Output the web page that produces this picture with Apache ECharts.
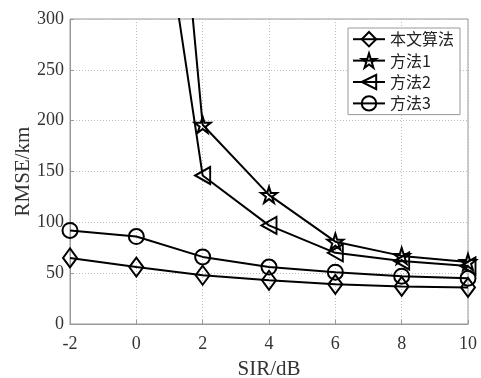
<!DOCTYPE html>
<html>
<head>
<meta charset="utf-8">
<script src="https://cdn.jsdelivr.net/npm/echarts@6/dist/echarts.min.js"></script>
<style>
  html, body { margin: 0; padding: 0; background: #fff; }
  #main { width: 481px; height: 378px; }
</style>
</head>
<body>
<div id="main"></div>
<script>
// SIR (dB) on x
var sirValues = [-2, 0, 2, 4, 6, 8, 10];
// RMSE (km) per method
var oursRmse = [65, 56, 48, 43, 39, 37, 36];
var method1Rmse = [null, 900, 196, 127, 81, 67, 61];
var method2Rmse = [null, 580, 146, 97, 70, 62, 57];
var method3Rmse = [92, 86, 66, 56, 51, 47, 45];
var seriesNames = ['本文算法', '方法1', '方法2', '方法3'];

var starPath = 'path://M0,-1L0.2245,-0.309L0.951,-0.309L0.363,0.118L0.588,0.809L0,0.382L-0.588,0.809L-0.363,0.118L-0.951,-0.309L-0.2245,-0.309Z';
var diamondPath = 'path://M0,-1L1,0L0,1L-1,0Z';
var triPath = 'path://M-1,0L1,-1L1,1Z';

function pairs(vals) {
    var out = [];
    sirValues.forEach(function (x, i) {
        if (vals[i] != null) {
            out.push([x, vals[i]]);
        }
    });
    return out;
}

function makeSeries(name, vals, symbol, size) {
    return {
        name: name,
        type: 'line',
        data: pairs(vals),
        symbol: symbol,
        symbolSize: size,
        showAllSymbol: true,
        clip: true,
        lineStyle: { color: '#000', width: 2 },
        itemStyle: { color: 'rgba(255,255,255,0)', borderColor: '#000', borderWidth: 2 },
        emphasis: { disabled: true }
    };
}

var myChart = echarts.init(document.getElementById('main'));

var option = {
    animation: false,
    grid: {
        left: 70, top: 19, right: 13, bottom: 54,
        outerBoundsMode: 'none',
        containLabel: false,
        show: true, borderColor: '#999', borderWidth: 1
    },
    legend: {
        orient: 'vertical',
        left: 348, top: 28,
        padding: [3, 6, 3, 4],
        itemGap: 5,
        itemWidth: 32, itemHeight: 18,
        backgroundColor: '#fff',
        borderColor: '#999', borderWidth: 1,
        borderRadius: 0,
        data: seriesNames,
        textStyle: { fontFamily: 'Noto Sans CJK SC', fontSize: 16, color: '#222' }
    },
    xAxis: {
        type: 'value',
        min: -2, max: 10, interval: 2,
        name: 'SIR/dB',
        nameLocation: 'middle',
        nameGap: 35,
        nameMoveOverlap: false,
        nameTextStyle: { fontFamily: 'Liberation Serif', fontSize: 21, color: '#333' },
        axisLine: { onZero: false, lineStyle: { color: '#999' } },
        axisTick: { inside: true, length: 4, lineStyle: { color: '#999' } },
        axisLabel: { fontFamily: 'Liberation Serif', fontSize: 18, color: '#333', margin: 11 },
        splitLine: { show: true, lineStyle: { color: '#bbb', type: [1, 2], width: 1 } }
    },
    yAxis: {
        type: 'value',
        min: 0, max: 300, interval: 50,
        name: 'RMSE/km',
        nameLocation: 'middle',
        nameGap: 36,
        nameMoveOverlap: false,
        nameTextStyle: { fontFamily: 'Liberation Serif', fontSize: 21, color: '#333' },
        axisLine: { show: true, onZero: false, lineStyle: { color: '#999' } },
        axisTick: { show: true, inside: true, length: 4, lineStyle: { color: '#999' } },
        axisLabel: { fontFamily: 'Liberation Serif', fontSize: 18, color: '#333', margin: 6 },
        splitLine: { show: true, lineStyle: { color: '#bbb', type: [1, 2], width: 1 } }
    },
    series: [
        makeSeries(seriesNames[0], oursRmse, diamondPath, [14, 19]),
        makeSeries(seriesNames[1], method1Rmse, starPath, 16),
        makeSeries(seriesNames[2], method2Rmse, triPath, [15, 17]),
        makeSeries(seriesNames[3], method3Rmse, 'circle', 15)
    ]
};

option && myChart.setOption(option);
</script>
</body>
</html>
